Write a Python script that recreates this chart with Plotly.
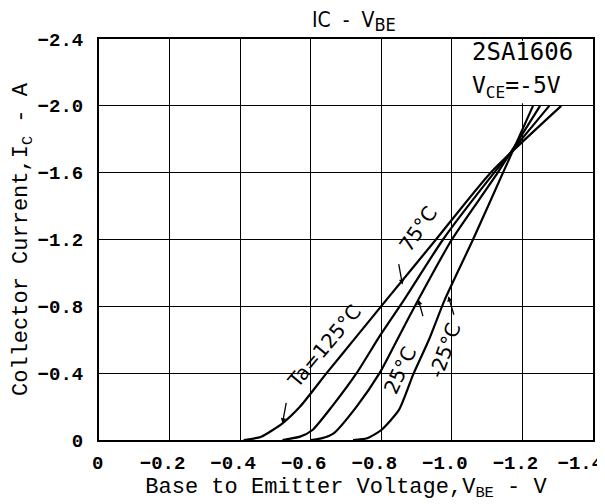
import plotly.graph_objects as go

# Data (V_BE in V, I_C in A)
v_125 = [-0.41, -0.46, -0.52, -0.57, -0.645, -0.73, -0.815, -0.955, -1.11, -1.31]
i_125 = [0, -0.02, -0.10, -0.20, -0.40, -0.62, -0.84, -1.2, -1.6, -2.0]
v_75 = [-0.52, -0.57, -0.605, -0.66, -0.73, -0.795, -0.865, -0.975, -1.12, -1.276]
i_75 = [0, -0.02, -0.06, -0.20, -0.40, -0.62, -0.84, -1.2, -1.6, -2.0]
v_25 = [-0.60, -0.63, -0.665, -0.73, -0.795, -0.85, -0.905, -1.0, -1.13, -1.25]
i_25 = [0, -0.01, -0.04, -0.20, -0.40, -0.62, -0.84, -1.2, -1.6, -2.0]
v_m25 = [-0.72, -0.76, -0.80, -0.85, -0.89, -0.935, -0.98, -1.06, -1.145, -1.23]
i_m25 = [0, -0.01, -0.06, -0.18, -0.39, -0.60, -0.84, -1.2, -1.6, -2.0]

x_ticks = [0, -0.2, -0.4, -0.6, -0.8, -1.0, -1.2, -1.4]
x_ticklabels = ["\u00a00", "−0.2", "−0.4", "−0.6", "−0.8", "−1.0", "−1.2", "−1.4\u00a0"]
y_ticks = [0, -0.4, -0.8, -1.2, -1.6, -2.0, -2.4]
y_ticklabels = ["0", "−0.4", "−0.8", "−1.2", "−1.6", "−2.0", "−2.4"]

MONO = "Liberation Mono, Courier New, monospace"

fig = go.Figure()
for v, i in [(v_125, i_125), (v_75, i_75), (v_25, i_25), (v_m25, i_m25)]:
    fig.add_trace(go.Scatter(x=v, y=i, mode="lines",
                             line=dict(color="black", width=2.2, shape="spline", smoothing=0.6),
                             showlegend=False, hoverinfo="skip"))

axis_common = dict(showgrid=True, gridcolor="black", gridwidth=1.4, zeroline=False,
                   showline=True, linecolor="black", linewidth=2, mirror=True,
                   ticks="", automargin=False,
                   tickfont=dict(family=MONO, size=19, color="black", weight="bold"))

# axis is reversed, so a positive shift moves the labels to the left on screen
fig.update_xaxes(range=[0, -1.4], tickvals=x_ticks, ticktext=x_ticklabels,
                 ticklabelstandoff=4, ticklabelshift=7, ticklabeloverflow="allow",
                 title=dict(text="Base to Emitter Voltage,V<sub>BE</sub> - V",
                            font=dict(family=MONO, size=22, color="black"), standoff=2),
                 **axis_common)
fig.update_yaxes(range=[0, -2.4], tickvals=y_ticks, ticktext=y_ticklabels,
                 ticklabelstandoff=10,
                 title=dict(text="Collector Current,I<sub>C</sub> - A",
                            font=dict(family=MONO, size=22, color="black"), standoff=4),
                 **axis_common)

# white patch behind the part-number box (hides the grid there, as in the original)
fig.add_shape(type="rect", xref="x", yref="y", x0=-1.035, x1=-1.393, y0=-2.015, y1=-2.39,
              fillcolor="white", line=dict(width=0), layer="between")

ann = []
ann.append(dict(text="IC  -  V<sub><span style='font-size:18px'>BE</span></sub>",
                x=0.5, y=1.0, xref="paper", yref="paper",
                xanchor="center", yanchor="bottom", yshift=2, xshift=8, showarrow=False,
                font=dict(family="DejaVu Sans Condensed, DejaVu Sans", size=21, color="black")))
ann.append(dict(text="2SA1606", x=-1.05, y=-2.32, xref="x", yref="y", showarrow=False,
                xanchor="left", yanchor="middle",
                font=dict(family="DejaVu Sans Mono", size=24, color="black")))
ann.append(dict(text="V<sub>CE</sub>=-5V", x=-1.05, y=-2.11, xref="x", yref="y", showarrow=False,
                xanchor="left", yanchor="middle",
                font=dict(family="DejaVu Sans Mono", size=23, color="black")))
# curve labels
lab_font = dict(family="DejaVu Sans", size=20, color="black")
ann.append(dict(text="Ta=125°C", x=-0.64, y=-0.56, xref="x", yref="y", showarrow=False,
                textangle=-50, font=lab_font))
ann.append(dict(text="75°C", x=-0.905, y=-1.26, xref="x", yref="y", showarrow=False,
                textangle=-55, font=lab_font))
ann.append(dict(text="25°C", x=-0.853, y=-0.42, xref="x", yref="y", showarrow=False,
                textangle=-65, font=lab_font))
ann.append(dict(text="-25°C", x=-0.98, y=-0.54, xref="x", yref="y", showarrow=False,
                textangle=-70, font=lab_font))
# leader arrows
for (xa, ya, ax, ay) in [(-0.52, -0.10, 4, -22), (-0.86, -0.93, -4, -22),
                         (-0.905, -0.84, 5, 18), (-0.99, -0.86, 6, 20)]:
    ann.append(dict(x=xa, y=ya, xref="x", yref="y", text="", showarrow=True,
                    arrowhead=2, arrowsize=0.8, arrowwidth=1.3, arrowcolor="black",
                    ax=ax, ay=ay))

# page body adds an 8px offset, so the figure is sized to fit the window
fig.update_layout(width=597, height=496, margin=dict(l=91, r=12, t=31, b=64),
                  plot_bgcolor="white", paper_bgcolor="white", annotations=ann)

fig.write_html("out.html")
